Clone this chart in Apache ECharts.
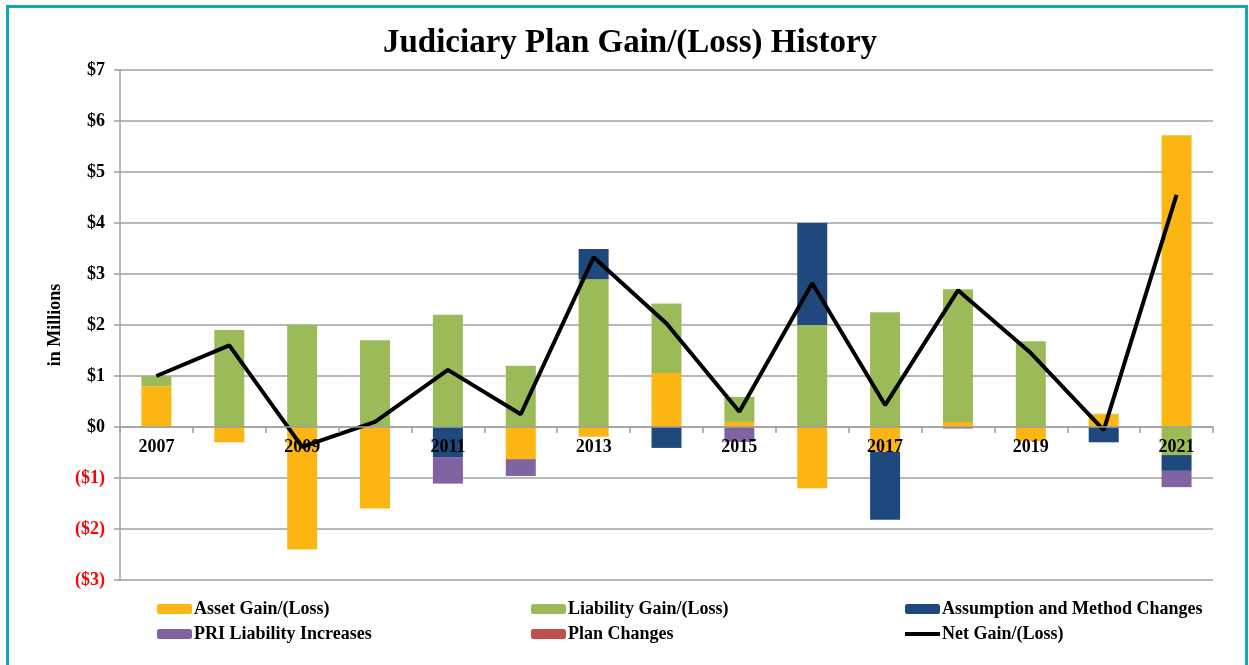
<!DOCTYPE html>
<html>
<head>
<meta charset="utf-8">
<script src="https://cdn.jsdelivr.net/npm/echarts@6/dist/echarts.min.js"></script>
<style>
  html, body { margin: 0; padding: 0; background: #fff; }
  #frame {
    position: absolute; left: 6px; top: 5px; width: 1242px; height: 700px;
    border: 3px solid #13a6b6; box-sizing: border-box;
  }
  #chart { position: absolute; left: 0; top: 0; width: 1249px; height: 665px; }
</style>
</head>
<body>
<div id="frame"></div>
<div id="chart"></div>
<script>
// 年份
const years = ['2007', '2008', '2009', '2010', '2011', '2012', '2013', '2014',
  '2015', '2016', '2017', '2018', '2019', '2020', '2021']

// 各项数据 (单位: 百万)
const assetGain = [0.8, -0.3, -2.4, -1.6, 0, -0.63, -0.19, 1.06, 0.1, -1.2, -0.49, 0.1, -0.28, 0.25, 5.72]
const liabilityGain = [0.2, 1.9, 2.0, 1.7, 2.2, 1.2, 2.9, 1.36, 0.49, 2.0, 2.25, 2.6, 1.68, 0.01, -0.55]
const assumptionChanges = [0, 0, 0, 0, -0.59, 0, 0.59, -0.41, 0, 2.0, -1.33, 0, 0, -0.3, -0.31]
const priIncreases = [0, 0, 0, 0, -0.52, -0.33, 0, 0, -0.29, 0, 0, -0.03, 0, 0, -0.32]
const planChanges = [0, 0, 0, 0, 0, 0, 0, 0, 0, 0, 0, 0, 0, 0, 0]
const netGain = [1.0, 1.6, -0.39, 0.1, 1.12, 0.25, 3.33, 2.03, 0.3, 2.82, 0.43, 2.68, 1.45, -0.06, 4.55]

// y 轴刻度
const yMin = -3
const yMax = 7

const serif = 'Liberation Serif'
const gridTop = 70
const gridBottom = 85
const plotHeight = 665 - gridTop - gridBottom
// 年份标签跟随零线 (零线到底边的距离)
const zeroOffset = plotHeight * (0 - yMin) / (yMax - yMin)

const chart = echarts.init(document.getElementById('chart'))

const barSeries = (name, data, color) => ({
  name,
  type: 'bar',
  stack: 'total',
  barWidth: 30,
  data,
  itemStyle: { color },
})

const legendBase = {
  orient: 'vertical',
  top: 595,
  itemWidth: 35,
  itemHeight: 10,
  itemGap: 7,
  textStyle: { fontFamily: serif, fontWeight: 'bold', fontSize: 18, color: '#000', padding: [0, 0, 0, -3] },
}

chart.setOption({
  animation: false,
  title: {
    text: 'Judiciary Plan Gain/(Loss) History',
    left: 378,
    top: 22,
    textStyle: { fontFamily: serif, fontWeight: 'bold', fontSize: 33, color: '#000' },
  },
  grid: { left: 120, right: 36, top: gridTop, bottom: gridBottom },
  legend: [
    { ...legendBase, left: 152, data: ['Asset Gain/(Loss)', 'PRI Liability Increases'] },
    { ...legendBase, left: 526, data: ['Liability Gain/(Loss)', 'Plan Changes'] },
    { ...legendBase, left: 900, data: ['Assumption and Method Changes'] },
    {
      ...legendBase,
      left: 900,
      top: 620,
      itemHeight: 4,
      data: [{ name: 'Net Gain/(Loss)', icon: 'rect', itemStyle: { color: '#000' } }],
    },
  ],
  xAxis: [
    {
      type: 'category',
      data: years,
      axisLine: { onZero: true, lineStyle: { color: '#a0a0a0', width: 1.5 } },
      axisTick: { show: true, interval: 0, length: 6, lineStyle: { color: '#a0a0a0', width: 1.5 } },
      axisLabel: { show: false },
      z: 10,
    },
    {
      type: 'category',
      data: years,
      position: 'bottom',
      offset: -zeroOffset,
      axisLine: { show: false },
      axisTick: { show: false },
      axisLabel: {
        interval: 1,
        margin: 11,
        fontFamily: serif,
        fontWeight: 'bold',
        fontSize: 18,
        color: '#000',
      },
      z: 3,
    },
  ],
  yAxis: {
    type: 'value',
    min: yMin,
    max: yMax,
    interval: 1,
    name: 'in Millions',
    nameLocation: 'middle',
    nameGap: 48,
    nameRotate: 90,
    nameTextStyle: { fontFamily: serif, fontWeight: 'bold', fontSize: 18, color: '#000' },
    axisLine: { show: true, lineStyle: { color: '#a0a0a0', width: 1.5 } },
    axisTick: { show: true, length: 6, lineStyle: { color: '#a0a0a0', width: 1.5 } },
    splitLine: { lineStyle: { color: '#a0a0a0', width: 1.5 } },
    axisLabel: {
      margin: 15,
      fontFamily: serif,
      fontWeight: 'bold',
      fontSize: 18,
      formatter: (v) => (v < 0 ? '($' + Math.abs(v) + ')' : '$' + v),
      color: (v) => (Number(v) < 0 ? '#ff0000' : '#000'),
    },
  },
  series: [
    barSeries('Asset Gain/(Loss)', assetGain, '#fbb614'),
    barSeries('Liability Gain/(Loss)', liabilityGain, '#9bbb59'),
    barSeries('Assumption and Method Changes', assumptionChanges, '#1f497d'),
    barSeries('PRI Liability Increases', priIncreases, '#8064a2'),
    barSeries('Plan Changes', planChanges, '#c0504d'),
    {
      name: 'Net Gain/(Loss)',
      type: 'line',
      data: netGain,
      symbol: 'none',
      lineStyle: { color: '#000', width: 4 },
      itemStyle: { color: '#000' },
      z: 5,
    },
  ],
})
</script>
</body>
</html>
